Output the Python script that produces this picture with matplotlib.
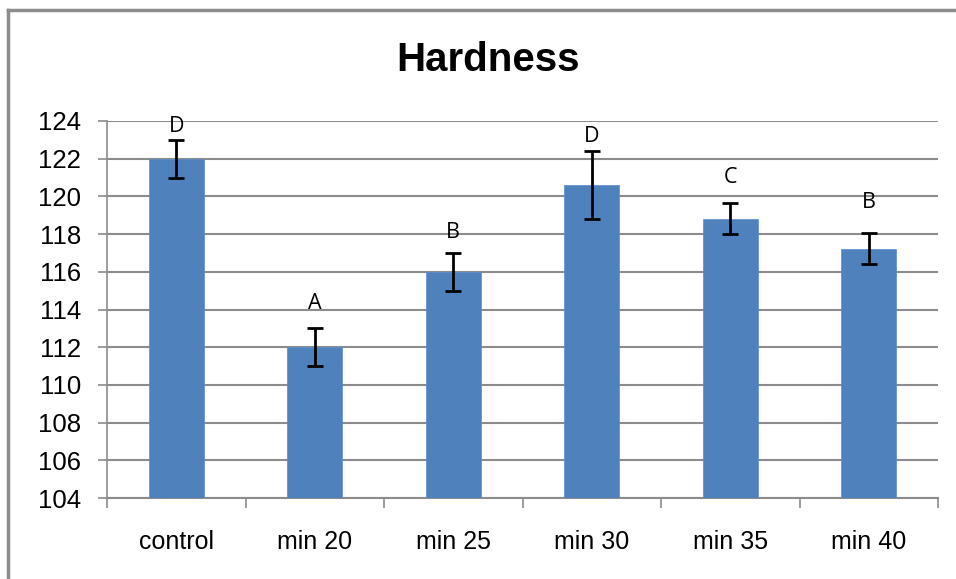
import matplotlib
matplotlib.use("Agg")
import matplotlib.pyplot as plt
from matplotlib.lines import Line2D

categories = ["control", "min 20", "min 25", "min 30", "min 35", "min 40"]
means = [122.0, 112.0, 116.0, 120.6, 118.8, 117.2]
err_low = [1.0, 1.0, 1.0, 1.8, 0.8, 0.8]
err_high = [1.0, 1.0, 1.0, 1.8, 0.85, 0.85]
letters = ["D", "A", "B", "D", "C", "B"]
letter_y = [123.7, 114.3, 118.1, 123.2, 121.0, 119.7]
yticks = list(range(104, 125, 2))

plt.rcParams['font.family'] = ['Liberation Sans', 'DejaVu Sans']

fig = plt.figure(figsize=(9.56, 5.79), dpi=100)
ax = fig.add_axes([107/956, 1-498/579, (938-107)/956, (498-121)/579])

x = list(range(len(categories)))
ax.bar(x, means, width=0.4, color="#4F81BD", edgecolor="#5B8ED0", linewidth=0.5, zorder=3)
ax.errorbar(x, means, yerr=[err_low, err_high], fmt="none", ecolor="black",
            elinewidth=2, capsize=6, capthick=2, zorder=4)
for xi, t, ly in zip(x, letters, letter_y):
    ax.text(xi, ly, t, ha="center", va="center", fontsize=15.5, zorder=5,
            family=['Open Sans', 'DejaVu Sans'])

ax.set_ylim(104, 124)
ax.set_xlim(-0.5, len(categories) - 0.5)
ax.set_yticks(yticks)
ax.set_yticklabels([str(v) for v in yticks], fontsize=18.5)
ax.yaxis.grid(True, color="#8C8C8C", linewidth=1.5, zorder=0)
ax.set_axisbelow(True)

ax.set_xticks([i - 0.5 for i in range(len(categories) + 1)], minor=False)
ax.set_xticklabels([])
ax.set_xticks(x, minor=True)
ax.set_xticklabels(categories, minor=True, fontsize=18)
ax.tick_params(axis="x", which="major", length=7, color="#8C8C8C", width=1.2)
ax.tick_params(axis="x", which="minor", length=0, pad=23)
ax.tick_params(axis="y", length=6.5, color="#8C8C8C", width=1.2, pad=12)

for s in ["top", "right"]:
    ax.spines[s].set_visible(False)
ax.spines["left"].set_color("#8C8C8C")
ax.spines["left"].set_linewidth(1.2)
ax.spines["bottom"].set_color("#8C8C8C")
ax.spines["bottom"].set_linewidth(1.5)

fig.text(488/956, 1-60/579, "Hardness", ha="center", va="center",
         fontsize=29, fontweight="bold")

# outer chart frame (left and top)
fig.add_artist(Line2D([8/956, 8/956], [0, 1-9.5/579], transform=fig.transFigure,
                      color="#8C8C8C", linewidth=2.5))
fig.add_artist(Line2D([8/956, 1], [1-9.5/579, 1-9.5/579], transform=fig.transFigure,
                      color="#8C8C8C", linewidth=2.5))

fig.savefig("out.png", dpi=100)
